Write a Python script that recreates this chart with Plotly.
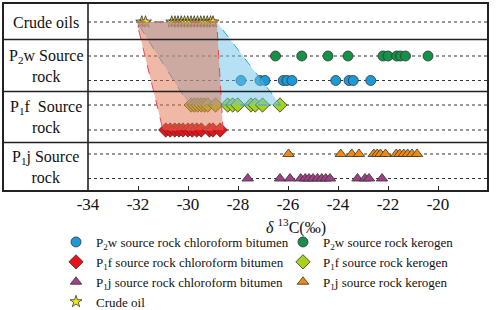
import plotly.graph_objects as go

# ---------------- data (δ13C, ‰) ----------------
crude_oil = [-31.85, -31.7, -30.65, -30.52, -30.4, -30.27, -30.14, -30.01, -29.88,
             -29.75, -29.62, -29.49, -29.36, -29.23, -29.1, -29.0]
p2w_kerogen = [-26.5, -25.45, -24.4, -23.6, -22.2, -22.0, -21.65, -21.5, -21.3, -20.4]
p2w_chloroform = [-27.88, -27.12, -26.92, -26.19, -26.04, -25.84, -24.09, -23.56, -23.39, -22.69]
p1f_kerogen = [-29.87, -29.74, -29.61, -29.47, -29.34, -29.21, -28.9, -28.41, -28.21,
               -28.01, -27.48, -27.31, -27.02, -26.32]
p1f_chloroform = [-30.89, -30.71, -30.53, -30.36, -30.2, -30.0, -29.83, -29.65, -29.47,
                  -29.14, -29.0, -28.71]
p1j_kerogen = [-25.98, -23.89, -23.45, -23.16, -22.57, -22.43, -22.3, -22.1, -21.67,
               -21.53, -21.37, -21.21, -21.04, -20.84]
p1j_chloroform = [-27.61, -26.32, -25.92, -25.49, -25.31, -25.16, -25.0, -24.82, -24.65,
                  -24.49, -24.32, -23.22, -22.92, -22.76, -22.24]

# correlation envelopes (ranges)
oil_span = [-32.05, -28.85]
p1f_chloroform_span = [-31.0, -28.6]
p1f_kerogen_span = [-29.95, -26.3]

tick_values = [-34, -32, -30, -28, -26, -24, -22, -20, -18]
tick_labels = ["-34", "-32", "-30", "-28", "-26", "-24", "-22", "-20", "-18"]

row_labels = ["Crude oils", "P<sub>2</sub>w Source<br>rock",
              "P<sub>1</sub>f  Source<br>rock", "P<sub>1</sub>j Source<br>rock"]

# ---------------- layout constants ----------------
FONT = "Liberation Serif"
W, H = 498, 310
ML, MR, MT, MB = 3, 10, 3, 119
PW = W - ML - MR            # plot width in px
PH = H - MT - MB            # plot height in px (y units = px)
LABEL_COL = 85              # width of the label column in px
XDOM0 = LABEL_COL / PW

lvl = dict(oil=19, p2w_ker=53, p2w_chl=77.5, p1f_ker=102, p1f_chl=127,
           p1j_ker=151, p1j_chl=175.5)
row_bounds = [36.5, 88.5, 139.5]
row_centers = [19, 63, 114, 164]

series = [
    ("P<sub>2</sub>w source rock chloroform bitumen", p2w_chloroform, lvl["p2w_chl"], "circle", "#1a9ad6", 10),
    ("P<sub>2</sub>w source rock kerogen", p2w_kerogen, lvl["p2w_ker"], "circle", "#15914a", 10),
    ("P<sub>1</sub>f source rock chloroform bitumen", p1f_chloroform, lvl["p1f_chl"], "diamond", "#e5141b", 11),
    ("P<sub>1</sub>f source rock kerogen", p1f_kerogen, lvl["p1f_ker"], "diamond", "#a8d11c", 11),
    ("P<sub>1</sub>j source rock chloroform bitumen", p1j_chloroform, lvl["p1j_chl"], "triangle-up", "#a13f86", 10),
    ("P<sub>1</sub>j source rock kerogen", p1j_kerogen, lvl["p1j_ker"], "triangle-up", "#f0890f", 10),
    ("Crude oil", crude_oil, lvl["oil"], "star", "#f2e51c", 9),
]

fig = go.Figure()
for name, xs, y, sym, col, sz in series:
    fig.add_trace(go.Scatter(
        x=xs, y=[y] * len(xs), mode="markers", name=name,
        marker=dict(symbol=sym, color=col, size=sz,
                    line=dict(color="#333333", width=0.8)),
    ))

shapes = []
# dotted reference lines
for y in lvl.values():
    shapes.append(dict(type="line", xref="paper", yref="y", x0=XDOM0, x1=1, y0=y, y1=y,
                       line=dict(color="#333333", width=1, dash="dot"), layer="below"))

# envelopes
def poly(top, bottom, ytop, ybot):
    return f"M {top[0]},{ytop} L {top[1]},{ytop} L {bottom[1]},{ybot} L {bottom[0]},{ybot} Z"

shapes.append(dict(type="path", xref="x", yref="y",
                   path=poly(oil_span, p1f_kerogen_span, lvl["oil"], lvl["p1f_ker"]),
                   fillcolor="rgba(110,195,235,0.5)",
                   line=dict(color="#29a9e0", width=1, dash="dash"), layer="above"))
shapes.append(dict(type="path", xref="x", yref="y",
                   path=poly(oil_span, p1f_chloroform_span, lvl["oil"], lvl["p1f_chl"]),
                   fillcolor="rgba(225,115,80,0.5)",
                   line=dict(color="#f04848", width=1, dash="dash"), layer="above"))

# frame
for yb in row_bounds:
    shapes.append(dict(type="line", xref="paper", yref="y", x0=0, x1=1, y0=yb, y1=yb,
                       line=dict(color="#222222", width=1.6)))
shapes.append(dict(type="line", xref="paper", yref="paper", x0=XDOM0, x1=XDOM0, y0=0, y1=1,
                   line=dict(color="#222222", width=1.6)))
shapes.append(dict(type="rect", xref="paper", yref="paper", x0=0, x1=1, y0=0, y1=1,
                   line=dict(color="#222222", width=2)))

annotations = []
for text, yc in zip(row_labels, row_centers):
    annotations.append(dict(text=text, xref="paper", yref="y", x=XDOM0 / 2, y=yc,
                            showarrow=False, font=dict(family=FONT, size=16, color="#111"),
                            xanchor="center", yanchor="middle", align="center"))
annotations.append(dict(text="<i>δ</i> <sup>13</sup>C(‰)", xref="paper", yref="paper",
                        x=(296 - ML) / PW, y=-(226.5 - (MT + PH)) / PH, showarrow=False,
                        xanchor="center", yanchor="middle",
                        font=dict(family=FONT, size=16, color="#111")))

fig.update_layout(
    width=W, height=H,
    margin=dict(l=ML, r=MR, t=MT, b=MB, autoexpand=False),
    paper_bgcolor="white", plot_bgcolor="white",
    xaxis=dict(domain=[XDOM0, 1], range=[-34, -18], tickvals=tick_values, ticktext=tick_labels,
               ticks="inside", ticklen=5, tickwidth=1.2, tickcolor="#222",
               ticklabelstandoff=1,
               showgrid=False, zeroline=False, showline=False,
               tickfont=dict(family=FONT, size=17, color="#111")),
    yaxis=dict(range=[PH, 0], visible=False, showgrid=False, zeroline=False),
    shapes=shapes,
    annotations=annotations,
    showlegend=True,
    legend=dict(orientation="h", x=(56 - ML) / PW, y=-(227 - (MT + PH)) / PH,
                xanchor="left", yanchor="top", entrywidth=182, traceorder="normal",
                font=dict(family=FONT, size=13, color="#111"),
                itemwidth=30, tracegroupgap=0, bgcolor="rgba(0,0,0,0)"),
)

fig.write_html("out.html", config={"displayModeBar": False},
               post_script="document.body.style.margin='0';document.body.style.overflow='hidden';")
